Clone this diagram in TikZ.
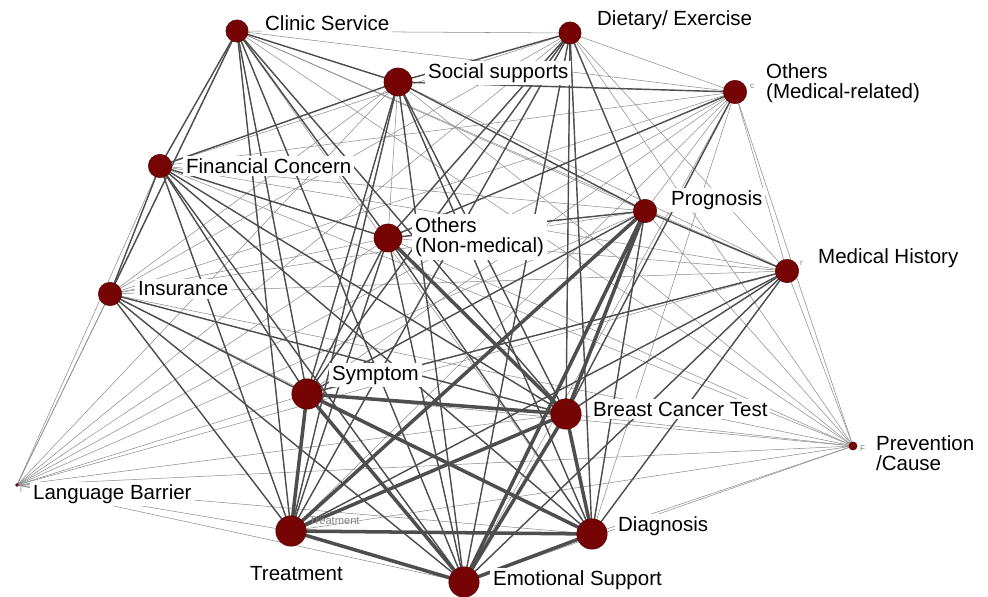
\documentclass[tikz,border=0pt]{standalone}
\usepackage{fontspec}
\setmainfont{Liberation Sans}
\usetikzlibrary{positioning}
\definecolor{dotred}{RGB}{118,4,4}
\definecolor{linkdark}{RGB}{78,78,78}
\definecolor{linklight}{RGB}{140,140,140}

\begin{document}
\begin{tikzpicture}[x=0.03cm,y=-0.03cm]
\tikzset{dot/.style = {circle, fill=dotred, draw=dotred!70!black, inner sep=0pt, minimum size=#1},
   lab/.style = {fill=white, inner sep=2.5pt, anchor=west, align=left, font=\fontsize{17.5}{17.5}\selectfont},
   tag/.style = {text=gray, inner sep=0pt, anchor=west, font=\fontsize{7}{8}\selectfont},
   thin link/.style = {linklight, line width=0.45pt},
   mid link/.style = {linkdark, line width=1.2pt},
   heavy link/.style = {linkdark, line width=3pt}}
\useasboundingbox (0,0) rectangle (988,597);
\foreach \n/\x/\y in {CS/237/31, DE/570/33, SS/398/82, OM/735/92, FC/160/166, PR/645/211,
   ON/388/238, MH/787/271, IN/110/294, SY/307/394, BT/566/414, PC/853/446, LB/17/485,
   TR/291/531, DI/592/534, ES/464/582}
   \coordinate (\n) at (\x,\y);
\foreach \a [count=\i] in {CS,DE,SS,OM,FC,PR,ON,MH,IN,SY,BT,PC,LB,TR,DI,ES}
   \foreach \b [count=\j] in {CS,DE,SS,OM,FC,PR,ON,MH,IN,SY,BT,PC,LB,TR,DI,ES}
      {\ifnum\j>\i \draw[thin link] (\a) -- (\b); \fi}
\foreach \a/\b in {CS/FC, CS/IN, CS/SY, CS/ON, CS/TR, CS/BT, CS/ES, CS/SS,
   DE/SY, DE/TR, DE/ES, DE/BT, DE/ON, DE/SS, DE/PR, DE/DI,
   SS/SY, SS/TR, SS/ES, SS/BT, SS/DI, SS/FC, SS/PR,
   FC/IN, FC/TR, FC/BT, FC/ES, FC/SY, FC/DI, FC/ON,
   PR/SY, PR/DI, PR/MH, PR/ON, ON/SY, ON/TR, ON/ES, ON/DI,
   MH/BT, MH/TR, MH/ES, MH/DI, MH/SY, IN/TR, IN/ES, IN/SY, IN/BT,
   OM/BT, OM/SS, OM/ON}
   \draw[mid link] (\a) -- (\b);
\foreach \a/\b in {SY/BT, TR/DI, TR/ES, DI/ES, SY/TR, TR/BT, BT/ES, BT/DI, SY/ES, SY/DI,
   PR/TR, PR/ES, PR/BT, ON/BT}
   \draw[heavy link] (\a) -- (\b);
\foreach \n/\s in {CS/19pt, DE/19pt, SS/24pt, OM/20pt, FC/20pt, PR/20pt, ON/24pt, MH/20pt,
   IN/20pt, SY/26pt, BT/26pt, PC/7pt, LB/2.5pt, TR/26pt, DI/26pt, ES/26pt}
   \node[dot=\s] (\n dot) at (\n) {};
\node[lab] (CSlab) at (262,23) {Clinic Service};
\node[lab] (DElab) at (594,20) {Dietary/ Exercise};
\node[lab] (SSlab) at (425,73) {Social supports};
\node[lab] (OMlab) at (763,83) {Others\\(Medical-related)};
\node[lab] (FClab) at (183,166) {Financial Concern};
\node[lab] (PRlab) at (668,200) {Prognosis};
\node[lab] (ONlab) at (412,237) {Others\\(Non-medical)};
\node[lab] (MHlab) at (815,258) {Medical History};
\node[lab] (INlab) at (135,289) {Insurance};
\node[lab] (SYlab) at (329,375) {Symptom};
\node[lab] (BTlab) at (590,409) {Breast Cancer Test};
\node[lab] (PClab) at (873,453) {Prevention\\/Cause};
\node[lab] (LBlab) at (30,494) {Language Barrier};
\node[lab] (TRlab) at (247,574) {Treatment};
\node[lab] (DIlab) at (615,526) {Diagnosis};
\node[lab] (ESlab) at (490,580) {Emotional Support};
\node[tag, font=\fontsize{9.5}{10}\selectfont] (TRtag) at (309,521) {Treatment};
\node[tag] (OMtag) at (750,86) {c};
\node[tag] (MHtag) at (800,263) {r};
\node[tag] (PCtag) at (860,449) {F};
\node[tag] (LBtag) at (20,490) {l};
\end{tikzpicture}
\end{document}
